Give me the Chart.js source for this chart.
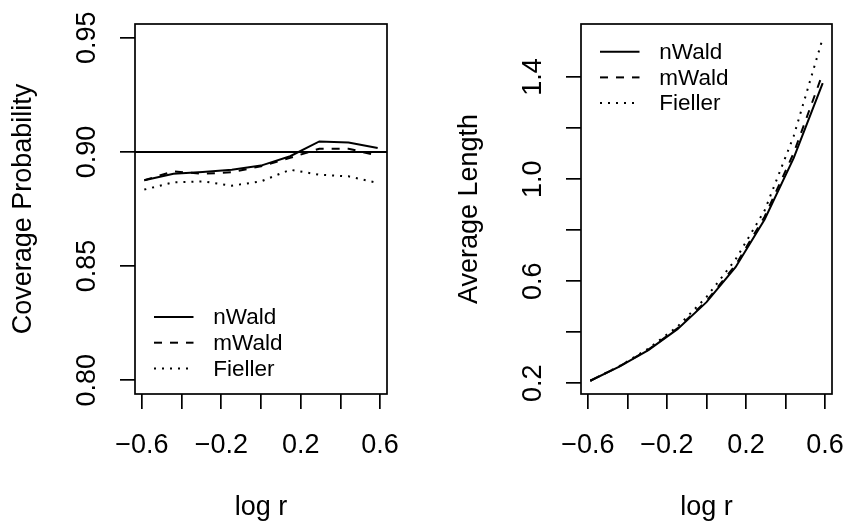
<!DOCTYPE html>
<html>
<head>
<meta charset="utf-8">
<script src="https://cdn.jsdelivr.net/npm/chart.js@4.4.1/dist/chart.umd.min.js"></script>
<style>
    html, body { margin: 0; padding: 0; background: #fff; }
    #wrap { position: relative; width: 845px; height: 525px; }
    canvas { position: absolute; left: 0; top: 0; }
</style>
</head>
<body>
<div id="wrap">
    <canvas id="coverageChart" width="845" height="525"></canvas>
    <canvas id="lengthChart" width="845" height="525"></canvas>
</div>
<script>
// x positions (log r) shared by both panels
const logR = [-0.588, -0.441, -0.294, -0.147, 0, 0.147, 0.294, 0.441, 0.588];

// left panel: coverage probability
const covNWald = [0.8876, 0.8904, 0.8912, 0.8922, 0.8940, 0.8981, 0.9046, 0.9041, 0.9017];
const covMWald = [0.8876, 0.8915, 0.8904, 0.8911, 0.8937, 0.8974, 0.9014, 0.9014, 0.8984];
const covFieller = [0.8835, 0.8867, 0.8871, 0.8852, 0.8871, 0.8922, 0.8900, 0.8893, 0.8864];
const nominalLevel = 0.90;

// right panel: average length
const lenNWald = [0.210, 0.265, 0.330, 0.412, 0.518, 0.655, 0.842, 1.082, 1.376];
const lenMWald = [0.210, 0.266, 0.332, 0.415, 0.523, 0.663, 0.853, 1.102, 1.414];
const lenFieller = [0.210, 0.267, 0.336, 0.422, 0.538, 0.685, 0.877, 1.168, 1.552];

// ticks
const xTicks = [-0.6, -0.4, -0.2, 0, 0.2, 0.4, 0.6];
const xLabels = [-0.6, -0.2, 0.2, 0.6];
const covTicks = [0.80, 0.85, 0.90, 0.95];
const covLabels = [0.80, 0.85, 0.90, 0.95];
const lenTicks = [0.2, 0.4, 0.6, 0.8, 1.0, 1.2, 1.4];
const lenLabels = [0.2, 0.6, 1.0, 1.4];

const seriesNames = ['nWald', 'mWald', 'Fieller'];
const dashes = [[], [8, 8], [2, 6]];

Chart.defaults.font.family = "'Liberation Sans', Arial, Helvetica, sans-serif";
Chart.defaults.color = '#000';

function fmt(v, digits) {
    const s = Math.abs(v).toFixed(digits);
    return v < -1e-9 ? '\u2212' + s : s;
}

function hasLabel(list, v) {
    return list.some((l) => Math.abs(l - v) < 1e-6);
}

function makeSets(values) {
    return values.map((ys, i) => ({
        label: seriesNames[i],
        data: logR.map((x, j) => ({ x: x, y: ys[j] })),
        borderColor: '#000',
        borderWidth: 2,
        borderDash: dashes[i],
        pointRadius: 0,
        tension: 0,
        fill: false,
    }));
}

// box round the plot region, optional reference line, legend
const rBox = {
    id: 'rBox',
    afterDatasetsDraw(chart, args, opts) {
        const ctx = chart.ctx;
        const a = chart.chartArea;
        ctx.save();
        ctx.strokeStyle = '#000';
        ctx.setLineDash([]);
        if (opts.refLine != null) {
            const y = chart.scales.y.getPixelForValue(opts.refLine);
            ctx.lineWidth = 2;
            ctx.beginPath();
            ctx.moveTo(a.left, y);
            ctx.lineTo(a.right, y);
            ctx.stroke();
        }
        ctx.lineWidth = 1.7;
        ctx.strokeRect(a.left, a.top, a.right - a.left, a.bottom - a.top);
        ctx.restore();
    },
    afterDraw(chart, args, opts) {
        const ctx = chart.ctx;
        const a = chart.chartArea;
        ctx.save();
        ctx.font = "22.5px 'Liberation Sans', Arial, sans-serif";
        ctx.textBaseline = 'middle';
        ctx.fillStyle = '#000';
        ctx.strokeStyle = '#000';
        ctx.lineWidth = 2;
        chart.data.datasets.forEach((ds, i) => {
            const y = a.top + opts.legendTop + i * 25.7;
            ctx.setLineDash(ds.borderDash);
            ctx.beginPath();
            ctx.moveTo(a.left + 19, y);
            ctx.lineTo(a.left + 58.5, y);
            ctx.stroke();
            ctx.fillText(ds.label, a.left + 78.3, y + 1);
        });
        ctx.restore();
    },
};

function makeChart(canvas, sets, cfg) {
    return new Chart(canvas, {
        type: 'line',
        data: { datasets: sets },
        plugins: [rBox],
        options: {
            responsive: false,
            animation: false,
            events: [],
            layout: { padding: cfg.padding },
            plugins: {
                legend: { display: false },
                tooltip: { enabled: false },
                rBox: { refLine: cfg.refLine, legendTop: cfg.legendTop },
            },
            scales: {
                x: {
                    type: 'linear',
                    min: -0.635,
                    max: 0.635,
                    afterBuildTicks: (s) => { s.ticks = xTicks.map((v) => ({ value: v })); },
                    afterFit: (s) => {
                        s.height = 131;
                        s.paddingLeft = s.paddingRight = 0;
                    },
                    border: { display: false },
                    grid: {
                        drawOnChartArea: false,
                        drawTicks: true,
                        tickLength: 15,
                        color: '#000',
                        lineWidth: 1.7,
                    },
                    ticks: {
                        autoSkip: false,
                        maxRotation: 0,
                        padding: 20,
                        font: { size: 27 },
                        callback: (v) => (hasLabel(xLabels, v) ? fmt(v, 1) : ''),
                    },
                    title: {
                        display: true,
                        text: 'log r',
                        font: { size: 27 },
                        padding: { top: 0, bottom: 1 },
                    },
                },
                y: {
                    type: 'linear',
                    min: cfg.yMin,
                    max: cfg.yMax,
                    afterBuildTicks: (s) => { s.ticks = cfg.yTicks.map((v) => ({ value: v })); },
                    afterFit: (s) => {
                        s.width = cfg.yWidth;
                        s.paddingTop = s.paddingBottom = 0;
                    },
                    border: { display: false },
                    grid: {
                        drawOnChartArea: false,
                        drawTicks: true,
                        tickLength: 15,
                        color: '#000',
                        lineWidth: 1.7,
                    },
                    ticks: {
                        autoSkip: false,
                        minRotation: 90,
                        maxRotation: 90,
                        crossAlign: 'center',
                        padding: cfg.tickPad,
                        font: { size: 27 },
                        callback: (v) => (hasLabel(cfg.yLabels, v) ? v.toFixed(cfg.digits) : ''),
                    },
                    title: {
                        display: true,
                        text: cfg.yTitle,
                        font: { size: 27 },
                        padding: { top: cfg.titlePad, bottom: 0 },
                    },
                },
            },
        },
    });
}

makeChart(document.getElementById('coverageChart'), makeSets([covNWald, covMWald, covFieller]), {
    padding: { left: 0, top: 24, right: 458, bottom: 0 },
    yMin: 0.794, yMax: 0.956,
    yTicks: covTicks, yLabels: covLabels, digits: 2,
    yWidth: 135, tickPad: 6, titlePad: 7,
    yTitle: 'Coverage Probability',
    refLine: nominalLevel,
    legendTop: 293,
});

makeChart(document.getElementById('lengthChart'), makeSets([lenNWald, lenMWald, lenFieller]), {
    padding: { left: 422, top: 24, right: 13, bottom: 0 },
    yMin: 0.158, yMax: 1.608,
    yTicks: lenTicks, yLabels: lenLabels, digits: 1,
    yWidth: 159, tickPad: 14, titlePad: 31,
    yTitle: 'Average Length',
    refLine: null,
    legendTop: 27.7,
});
</script>
</body>
</html>
